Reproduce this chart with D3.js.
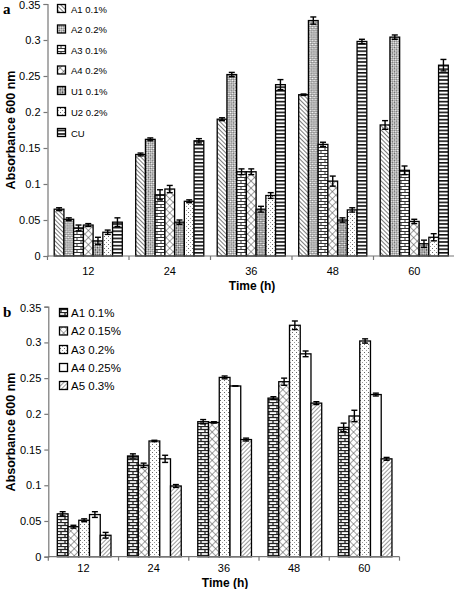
<!DOCTYPE html>
<html><head><meta charset="utf-8">
<script src="https://cdn.jsdelivr.net/npm/d3@7"></script>
<style>body{margin:0;background:#fff}svg{display:block;font-family:"Liberation Sans",Arial,sans-serif}</style>
</head><body>
<svg id="c" width="454" height="589"></svg>
<script>
const categories = ["12","24","36","48","60"];
const yTicks = [0,0.05,0.1,0.15,0.2,0.25,0.3,0.35];
// Panel a
const seriesA = ["A1 0.1%","A2 0.2%","A3 0.1%","A4 0.2%","U1 0.1%","U2 0.2%","CU"];
const valuesA = [
  [0.065,0.141,0.190,0.224,0.182],
  [0.051,0.162,0.252,0.327,0.304],
  [0.039,0.085,0.117,0.155,0.119],
  [0.043,0.093,0.117,0.104,0.048],
  [0.021,0.047,0.065,0.050,0.017],
  [0.033,0.076,0.084,0.064,0.026],
  [0.047,0.160,0.238,0.298,0.265]
];
const errorsA = [
  [0.002,0.002,0.002,0.001,0.006],
  [0.002,0.002,0.003,0.005,0.003],
  [0.004,0.007,0.004,0.003,0.006],
  [0.002,0.005,0.004,0.007,0.003],
  [0.005,0.003,0.004,0.003,0.005],
  [0.003,0.002,0.004,0.003,0.005],
  [0.006,0.003,0.007,0.003,0.008]
];
// Panel b
const seriesB = ["A1 0.1%","A2 0.15%","A3 0.2%","A4 0.25%","A5 0.3%"];
const valuesB = [
  [0.060,0.141,0.189,0.222,0.181],
  [0.042,0.128,0.188,0.245,0.197],
  [0.051,0.162,0.251,0.324,0.302],
  [0.059,0.137,0.239,0.284,0.227],
  [0.030,0.099,0.164,0.215,0.137]
];
const errorsB = [
  [0.003,0.003,0.003,0.002,0.006],
  [0.002,0.003,0.001,0.005,0.008],
  [0.002,0.001,0.002,0.006,0.003],
  [0.004,0.005,0.000,0.004,0.002],
  [0.004,0.002,0.002,0.002,0.002]
];

const svg = d3.select("#c");
const defs = svg.append("defs");
function pat(id,w,h,draw,transform){
  const p = defs.append("pattern").attr("id",id).attr("patternUnits","userSpaceOnUse").attr("width",w).attr("height",h);
  if(transform) p.attr("patternTransform",transform);
  p.append("rect").attr("width",w).attr("height",h).attr("fill","#fff");
  draw(p);
}
pat("diagA",3,3,p=>p.append("line").attr("x1",0).attr("y1",0).attr("x2",0).attr("y2",3).attr("stroke","#333").attr("stroke-width",1.3),"rotate(-45)");
pat("diagB",3,3,p=>p.append("line").attr("x1",0).attr("y1",0).attr("x2",0).attr("y2",3).attr("stroke","#555").attr("stroke-width",1.2),"rotate(45)");
pat("xdense",3,3,p=>{p.append("rect").attr("x",0).attr("y",0).attr("width",1.5).attr("height",1.5).attr("fill","#666");p.append("rect").attr("x",1.5).attr("y",1.5).attr("width",1.5).attr("height",1.5).attr("fill","#666");},"rotate(45)");
pat("xsmall",2.6,2.6,p=>{p.append("rect").attr("x",0).attr("y",0).attr("width",1.3).attr("height",1.3).attr("fill","#444");p.append("rect").attr("x",1.3).attr("y",1.3).attr("width",1.3).attr("height",1.3).attr("fill","#444");},"rotate(45)");
pat("diamond",5,5,p=>{p.append("line").attr("x1",0).attr("y1",0).attr("x2",5).attr("y2",0).attr("stroke","#444").attr("stroke-width",1);p.append("line").attr("x1",0).attr("y1",0).attr("x2",0).attr("y2",5).attr("stroke","#444").attr("stroke-width",1);},"rotate(45)");
function brick(id,c,sw){pat(id,8,6,p=>{
  p.append("line").attr("x1",0).attr("y1",0.5).attr("x2",8).attr("y2",0.5).attr("stroke",c).attr("stroke-width",sw);
  p.append("line").attr("x1",0).attr("y1",3.5).attr("x2",8).attr("y2",3.5).attr("stroke",c).attr("stroke-width",sw);
  p.append("line").attr("x1",1).attr("y1",0).attr("x2",1).attr("y2",3.5).attr("stroke",c).attr("stroke-width",sw);
  p.append("line").attr("x1",5).attr("y1",3.5).attr("x2",5).attr("y2",6).attr("stroke",c).attr("stroke-width",sw);
});}
brick("brickA","#333",1);
brick("brickB","#222",1.3);
pat("dots",4,4,p=>{p.append("rect").attr("x",0).attr("y",0).attr("width",1).attr("height",1).attr("fill","#666");p.append("rect").attr("x",2).attr("y",2).attr("width",1).attr("height",1).attr("fill","#999");});
pat("hstripe",4,3.6,p=>p.append("rect").attr("x",0).attr("y",0).attr("width",4).attr("height",1.6).attr("fill","#111"));

const fillsA = ["url(#diagA)","url(#xdense)","url(#brickA)","url(#diamond)","url(#xsmall)","url(#dots)","url(#hstripe)"];
const fillsB = ["url(#brickB)","url(#diamond)","url(#dots)","#fff","url(#diagB)"];

function panel(cfg){
  const {series,values,errors,fills,x0r,x1r,y0,y1,legendY,legendX,textX,legFont,label,labelY,titleX,titleY,catY} = cfg;
  const g = svg.append("g");
  const y = d3.scaleLinear().domain([0,0.35]).range([y0,y1]);
  const x0 = d3.scaleBand().domain(categories).range(x0r);
  const x1 = d3.scaleBand().domain(series).range(x1r);
  series.forEach((s,si)=>{
    const gs = g.append("g");
    const data = categories.map((c,ci)=>({c,v:values[si][ci],e:errors[si][ci]}));
    gs.selectAll("rect").data(data).join("rect")
      .attr("x",d=>x0(d.c)+x1(s)).attr("y",d=>y(d.v))
      .attr("width",x1.bandwidth()).attr("height",d=>y(0)-y(d.v))
      .attr("fill",fills[si]).attr("stroke","#000").attr("stroke-width",1.3);
    const eb = gs.selectAll("g.eb").data(data).join("g").attr("class","eb")
      .attr("stroke","#000").attr("stroke-width",1.4);
    const cx = d=>x0(d.c)+x1(s)+x1.bandwidth()/2;
    eb.append("line").attr("x1",cx).attr("x2",cx).attr("y1",d=>y(d.v+d.e)).attr("y2",d=>y(d.v-d.e));
    eb.append("line").attr("x1",d=>cx(d)-3).attr("x2",d=>cx(d)+3).attr("y1",d=>y(d.v+d.e)).attr("y2",d=>y(d.v+d.e));
    eb.append("line").attr("x1",d=>cx(d)-3).attr("x2",d=>cx(d)+3).attr("y1",d=>y(d.v-d.e)).attr("y2",d=>y(d.v-d.e));
  });
  const ya = g.append("g").attr("transform",`translate(${x0r[0]},0)`)
    .call(d3.axisLeft(y).tickValues(yTicks).tickFormat(d=>d===0?"0":String(d)).tickSize(4).tickPadding(3));
  ya.selectAll("path,line").attr("stroke","#777").attr("stroke-width",1.2);
  ya.selectAll("text").attr("font-size",11).attr("fill","#000").attr("font-family","Liberation Sans, Arial, sans-serif")
    .attr("dy",d=>d===0.35 ? "0.45em" : "0.32em");
  const xa = g.append("g").attr("transform",`translate(0,${y0})`);
  xa.append("line").attr("x1",x0r[0]).attr("x2",x0r[1]).attr("stroke","#777").attr("stroke-width",1.2);
  const bounds = categories.map(c=>x0(c)).concat([x0r[1]]);
  xa.selectAll("line.t").data(bounds).join("line").attr("class","t").attr("x1",d=>d).attr("x2",d=>d).attr("y1",0).attr("y2",4).attr("stroke","#777").attr("stroke-width",1.2);
  xa.selectAll("text").data(categories).join("text").attr("x",c=>x0(c)+x0.bandwidth()/2).attr("y",catY-y0).attr("text-anchor","middle").attr("font-size",11).text(c=>c);
  g.append("text").attr("transform",`translate(15,${labelY}) rotate(-90)`).attr("text-anchor","middle").attr("font-size",12.5).attr("font-weight","bold").text("Absorbance 600 nm");
  g.append("text").attr("x",titleX).attr("y",titleY).attr("text-anchor","middle").attr("font-size",12).attr("font-weight","bold").text("Time (h)");
  g.append("text").attr("x",3).attr("y",y1+10).attr("font-family","Liberation Serif, serif").attr("font-weight","bold").attr("font-size",15).text(label);
  const lg = g.append("g");
  series.forEach((s,si)=>{
    lg.append("rect").attr("x",legendX).attr("y",legendY[si]-4.5).attr("width",8).attr("height",8).attr("fill",fills[si]).attr("stroke","#000").attr("stroke-width",1.3);
    lg.append("text").attr("x",textX).attr("y",legendY[si]+3.5).attr("font-size",legFont).text(s);
  });
}

panel({series:seriesA,values:valuesA,errors:errorsA,fills:fillsA,
  x0r:[47.5,455],x1r:[6.7,74.8],y0:256,y1:4,
  legendY:[9,29.5,50,70.5,91,112,133],legendX:57.5,textX:71,legFont:9.5,
  label:"a",labelY:130,titleX:252,titleY:290,catY:275});
panel({series:seriesB,values:valuesB,errors:errorsB,fills:fillsB,
  x0r:[48.3,399.5],x1r:[9,62.7],y0:556.7,y1:306.7,
  legendY:[313,331.5,350,368,386],legendX:59.5,textX:71,legFont:11.5,
  label:"b",labelY:432,titleX:225,titleY:587,catY:572});
</script>
</body></html>
